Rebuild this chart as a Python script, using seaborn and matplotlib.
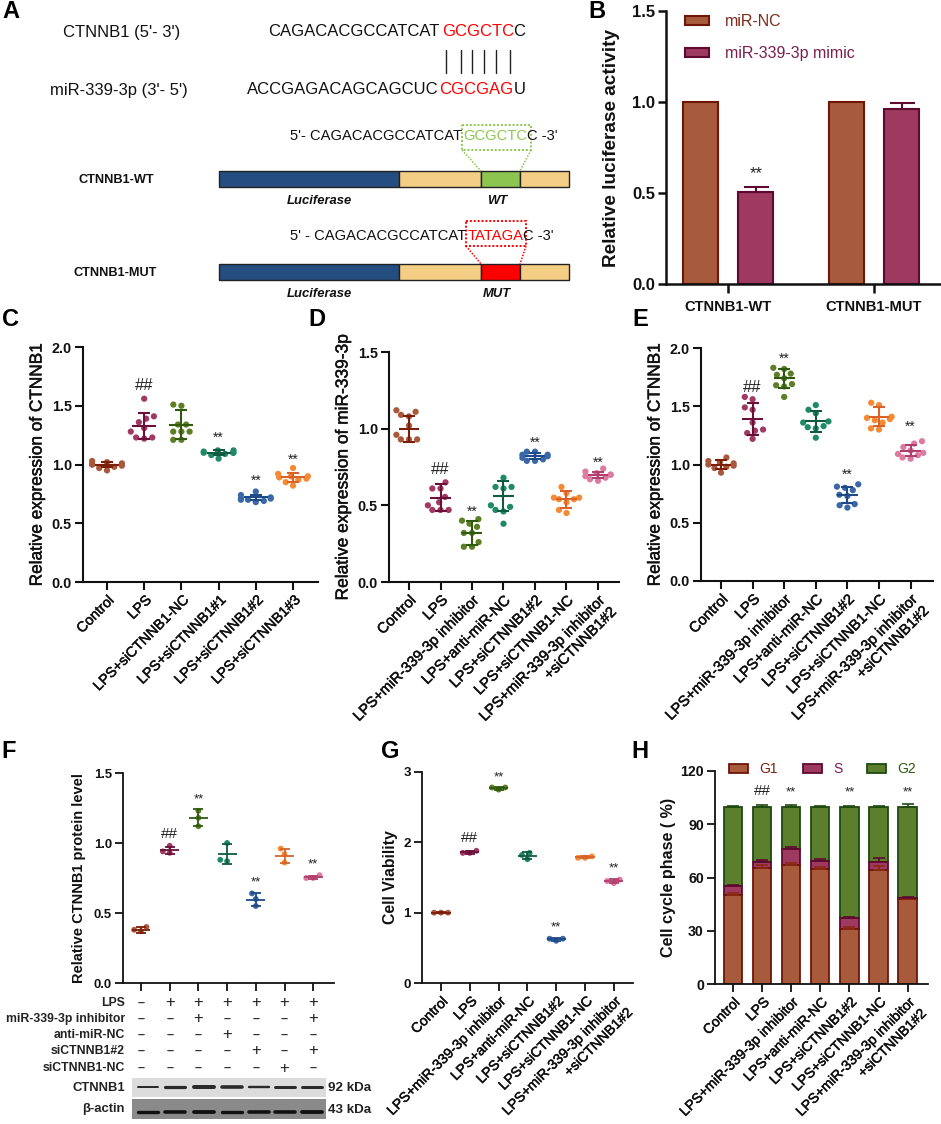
import numpy as np
import pandas as pd
import matplotlib
matplotlib.use('Agg')
import matplotlib.pyplot as plt
import matplotlib.patheffects as pe
from matplotlib.patches import Patch, Rectangle
import seaborn as sns

W, H = 941, 1124

# colours of the groups, points and their darker lines
POINT_COLORS = ['#A9583C', '#A03A62', '#5C7F25', '#1F8A68', '#3A67A8', '#F58A33', '#DC7AA0']
LINE_COLORS = ['#7B1E0A', '#6A0F3A', '#2F5A10', '#0F5A40', '#1E4A88', '#D8622A', '#B03E6E']

# panel B
B_GROUPS = ['CTNNB1-WT', 'CTNNB1-MUT']
B_NC = [1.0, 1.0]
B_MIMIC = [0.505, 0.96]
B_MIMIC_ERR = [0.03, 0.035]

# panel C
C_LABELS = ['Control', 'LPS', 'LPS+siCTNNB1-NC', 'LPS+siCTNNB1#1', 'LPS+siCTNNB1#2', 'LPS+siCTNNB1#3']
C_VALUES = [
    [1.03, 1.02, 1.01, 1.0, 1.0, 0.99, 0.98, 0.97, 0.95],
    [1.56, 1.41, 1.39, 1.36, 1.31, 1.28, 1.23, 1.23, 1.22],
    [1.51, 1.50, 1.34, 1.34, 1.28, 1.28, 1.28, 1.21, 1.21],
    [1.12, 1.12, 1.11, 1.10, 1.10, 1.10, 1.09, 1.08, 1.05],
    [0.77, 0.74, 0.72, 0.71, 0.71, 0.70, 0.70, 0.69, 0.68],
    [0.97, 0.92, 0.90, 0.90, 0.89, 0.88, 0.87, 0.85, 0.82],
]
C_MEAN = [1.0, 1.33, 1.34, 1.10, 0.72, 0.89]
C_SD = [0.02, 0.11, 0.12, 0.02, 0.02, 0.04]
C_MARKS = [('##', 1, 1.67), ('**', 3, 1.24), ('**', 4, 0.87), ('**', 5, 1.05)]

# label set shared by the panels D, E, G and H
LONG_LABELS = ['Control', 'LPS', 'LPS+miR-339-3p inhibitor', 'LPS+anti-miR-NC', 'LPS+siCTNNB1#2',
               'LPS+siCTNNB1-NC', 'LPS+miR-339-3p inhibitor\n+siCTNNB1#2']

# panel D
D_VALUES = [
    [1.12, 1.11, 1.09, 1.08, 1.02, 0.96, 0.93, 0.93, 0.93],
    [0.65, 0.61, 0.61, 0.555, 0.52, 0.47, 0.47, 0.47, 0.50],
    [0.41, 0.40, 0.38, 0.36, 0.32, 0.32, 0.26, 0.23, 0.23],
    [0.68, 0.62, 0.62, 0.61, 0.50, 0.49, 0.47, 0.46, 0.38],
    [0.85, 0.85, 0.83, 0.83, 0.82, 0.81, 0.80, 0.79, 0.79],
    [0.62, 0.58, 0.55, 0.55, 0.54, 0.54, 0.52, 0.47, 0.45],
    [0.74, 0.72, 0.71, 0.70, 0.70, 0.69, 0.68, 0.67, 0.66],
]
D_MEAN = [1.0, 0.55, 0.32, 0.56, 0.82, 0.54, 0.70]
D_SD = [0.085, 0.09, 0.08, 0.10, 0.02, 0.055, 0.02]
D_MARKS = [('##', 1, 0.735), ('**', 2, 0.47), ('**', 4, 0.92), ('**', 6, 0.79)]

# panel E
E_VALUES = [
    [1.06, 1.03, 1.02, 1.01, 1.0, 0.99, 0.98, 0.97, 0.93],
    [1.58, 1.56, 1.49, 1.47, 1.36, 1.30, 1.29, 1.27, 1.22],
    [1.83, 1.82, 1.78, 1.77, 1.74, 1.69, 1.68, 1.67, 1.58],
    [1.51, 1.47, 1.44, 1.37, 1.36, 1.33, 1.32, 1.31, 1.23],
    [0.83, 0.81, 0.80, 0.78, 0.74, 0.73, 0.66, 0.65, 0.63],
    [1.53, 1.51, 1.41, 1.40, 1.39, 1.38, 1.36, 1.31, 1.30],
    [1.20, 1.18, 1.15, 1.12, 1.10, 1.09, 1.08, 1.06, 1.05],
]
E_MEAN = [1.0, 1.39, 1.74, 1.37, 0.74, 1.41, 1.12]
E_SD = [0.04, 0.14, 0.08, 0.09, 0.07, 0.08, 0.05]
E_MARKS = [('##', 1, 1.665), ('**', 2, 1.92), ('**', 4, 0.925), ('**', 6, 1.335)]

# panel F
F_VALUES = [
    [0.40, 0.38, 0.37],
    [0.98, 0.94, 0.93],
    [1.23, 1.18, 1.12],
    [1.00, 0.87, 0.88],
    [0.64, 0.60, 0.55],
    [0.96, 0.92, 0.86],
    [0.77, 0.75, 0.75],
]
F_MEAN = [0.38, 0.95, 1.18, 0.92, 0.595, 0.91, 0.755]
F_SD = [0.02, 0.025, 0.06, 0.07, 0.045, 0.05, 0.01]
F_MARKS = [('##', 1, 1.065), ('**', 2, 1.32), ('**', 4, 0.73), ('**', 6, 0.86)]
F_ROW_NAMES = ['LPS', 'miR-339-3p inhibitor', 'anti-miR-NC', 'siCTNNB1#2', 'siCTNNB1-NC']
F_ROWS = [
    ['-', '+', '+', '+', '+', '+', '+'],
    ['-', '-', '+', '-', '-', '-', '+'],
    ['-', '-', '-', '+', '-', '-', '-'],
    ['-', '-', '-', '-', '+', '-', '+'],
    ['-', '-', '-', '-', '-', '+', '-'],
]
BLOT_CTNNB1 = [2.0, 3.2, 4.0, 3.6, 2.4, 3.0, 3.0]
BLOT_ACTIN = [3.4, 3.6, 3.8, 3.4, 3.6, 3.6, 3.8]

# panel G
G_VALUES = [
    [1.0, 1.0, 1.0],
    [1.85, 1.88, 1.85],
    [2.75, 2.78, 2.78],
    [1.76, 1.85, 1.82],
    [0.60, 0.63, 0.63],
    [1.78, 1.80, 1.78],
    [1.42, 1.47, 1.45],
]
G_MEAN = [1.0, 1.86, 2.77, 1.81, 0.62, 1.79, 1.45]
G_SD = [0.005, 0.02, 0.02, 0.05, 0.02, 0.01, 0.03]
G_MARKS = [('##', 1, 2.06), ('**', 2, 2.95), ('**', 4, 0.815), ('**', 6, 1.655)]

# panel H, heights of the three phases
H_G1 = [50, 65.6, 67, 64.7, 31, 64.5, 47.7]
H_S = [5, 3.4, 9, 4.5, 6, 4.3, 0.6]
H_G2 = [45, 31, 24, 30.8, 63, 31.2, 51.7]
H_G1_ERR = [1.3, 1.2, 1.3, 1.0, 1.0, 2.2, 0.8]
H_S_ERR = [1.0, 1.0, 1.2, 1.4, 1.0, 2.2, 0.6]
H_G2_ERR = [0.5, 0.6, 0.8, 0.5, 0.5, 0.4, 1.2]
H_MARKS = [('##', 1, 109), ('**', 2, 108.5), ('**', 4, 108.5), ('**', 6, 109)]

sns.set_theme(style='ticks')
plt.rcParams['font.family'] = ['Liberation Sans', 'DejaVu Sans']
plt.rcParams['axes.edgecolor'] = '#111111'

# thickens the regular labels a little, the source figure is heavier than plain regular
HEAVY = [pe.withStroke(linewidth=0.35, foreground='#111111')]


def make_axes(fig, left, right, top, bottom, x0, dx, ymax, yticks, line=1.5):
    # build an axes from its pixel box, x0/dx are the first tick and the tick spacing
    ax = fig.add_axes([left / W, 1 - bottom / H, (right - left) / W, (bottom - top) / H])
    ax.patch.set_alpha(0)
    ax.set_ylim(0, ymax)
    ax.set_yticks(yticks)
    ax._xlim_px = ((left - x0) / dx, (right - x0) / dx)
    sns.despine(ax=ax)
    for side in ['left', 'bottom']:
        ax.spines[side].set_linewidth(line)
    ax.tick_params(axis='both', width=line, length=5.5, color='#111111', pad=2.5)
    return ax


def finish_axes(ax, labels, ylabel, ylabel_x, left, right, size_y, size_x=10.0, label_size=12.4, label_weight='normal'):
    ax.set_xlim(*ax._xlim_px)
    ax.set_xlabel('')
    ax.set_xticks(range(len(labels)))
    if labels[0]:
        ax.set_xticklabels(labels, rotation=45, ha='right', rotation_mode='anchor',
                           fontsize=size_x, color='#111111', path_effects=HEAVY)
    else:
        ax.set_xticklabels([])
    ax.set_ylabel(ylabel, fontsize=label_size, fontweight=label_weight, color='#111111', va='center')
    if label_weight == 'normal':
        ax.yaxis.label.set_path_effects(HEAVY)
    ax.yaxis.set_label_coords((ylabel_x - left) / (right - left), 0.5)
    for t in ax.get_yticklabels():
        t.set_fontsize(size_y)
        t.set_fontweight('bold')
        t.set_color('#111111')


def scatter_panel(ax, values, means, sds, layout_size=5.6, dot_size=4.5, mean_half=0.33, cap=4.5, line=1.5):
    rows = []
    for i, group in enumerate(values):
        for v in group:
            rows.append({'group': i, 'value': v})
    df = pd.DataFrame(rows)
    # swarm is laid out with a wider dot than drawn, see freeze_swarms
    sns.swarmplot(data=df, x='group', y='value', hue='group', palette=POINT_COLORS[:len(values)],
                  size=layout_size, legend=False, ax=ax, warn_thresh=1, zorder=2)
    ax._dot_size = dot_size
    for i, (m, s) in enumerate(zip(means, sds)):
        ax.errorbar(i, m, yerr=s, fmt='none', ecolor=LINE_COLORS[i], elinewidth=line,
                    capsize=cap, capthick=line, zorder=3)
        ax.hlines(m, i - mean_half, i + mean_half, color=LINE_COLORS[i], lw=line, zorder=3)


def freeze_swarms(fig):
    # keep the swarm offsets of the first draw and give the points their real size
    fig.canvas.draw()
    for ax in fig.axes:
        for coll in ax.collections:
            if 'draw' in coll.__dict__:
                del coll.draw
                coll.set_sizes([ax._dot_size ** 2])


def add_marks(ax, marks, size_hash=12, size_star=10):
    for text, i, y in marks:
        size = size_hash if text == '##' else size_star
        va = 'center' if text == '##' else 'center_baseline'
        ax.text(i, y, text, ha='center', va=va, fontsize=size, color='#222222', zorder=4)


fig = plt.figure(figsize=(W / 100, H / 100), dpi=100, facecolor='white')

# overlay in pixel coordinates for panel A, the panel letters and the blot
over = fig.add_axes([0, 0, 1, 1], zorder=5)
over.set_xlim(0, W)
over.set_ylim(H, 0)
over.axis('off')
over.patch.set_alpha(0)

for letter, x, y in [('A', 2, 11), ('B', 588, 11), ('C', 2, 319), ('D', 308, 319), ('E', 632, 319),
                     ('F', 1, 751), ('G', 381, 751), ('H', 631, 751)]:
    over.text(x, y, letter, fontsize=17, fontweight='bold', color='black', ha='left', va='center')

# panel A: sequences
over.text(63, 32, "CTNNB1 (5'- 3')", fontsize=12, color='#111111', va='center')
over.text(50, 90, "miR-339-3p (3'- 5')", fontsize=12, color='#111111', va='center')
over.text(268, 31, 'CAGACACGCCATCAT', fontsize=12, color='#111111', va='center')
over.text(442, 31, 'GCGCTC', fontsize=12, color='#FF0000', va='center')
over.text(513, 31, 'C', fontsize=12, color='#111111', va='center')
over.text(247, 90, 'ACCGAGACAGCAGCUC', fontsize=12, color='#111111', va='center')
over.text(439, 90, 'CGCGAG', fontsize=12, color='#FF0000', va='center')
over.text(514, 90, 'U', fontsize=12, color='#111111', va='center')
for x in [446, 461, 472, 484, 496, 510]:
    over.plot([x, x], [50, 73], color='#222222', lw=1)

over.text(290, 136, "5'- CAGACACGCCATCAT", fontsize=10.6, color='#111111', va='center')
over.text(463, 136, 'GCGCTC', fontsize=10.6, color='#8CC650', va='center')
over.text(527, 136, 'C -3\'', fontsize=10.6, color='#111111', va='center')
over.text(290, 236, "5' - CAGACACGCCATCAT", fontsize=10.6, color='#111111', va='center')
over.text(468, 236, 'TATAGA', fontsize=10.6, color='#FF0000', va='center')
over.text(523, 236, 'C -3\'', fontsize=10.6, color='#111111', va='center')


def construct(y, color, box, line_color, name, name_x, tag):
    # one reporter construct: bar, insert, dotted zoom box and labels
    for x0, x1, c in [(219, 399, '#244E80'), (399, 481, '#F5CE85'), (481, 520, color), (520, 569, '#F5CE85')]:
        over.add_patch(Rectangle((x0, y), x1 - x0, 16, facecolor=c, edgecolor='#222222', lw=1))
    bx0, bx1, by0, by1 = box
    over.add_patch(Rectangle((bx0, by0), bx1 - bx0, by1 - by0, fill=False, edgecolor=line_color,
                             lw=1.4, ls=(0, (1, 1))))
    over.plot([bx0, 481], [by1, y], color=line_color, lw=1.1, ls=(0, (1, 1)))
    over.plot([bx1, 520], [by1, y], color=line_color, lw=1.1, ls=(0, (1, 1)))
    over.text(name_x, y + 9, name, fontsize=9.2, fontweight='bold', color='#111111', va='center')
    over.text(319, y + 30, 'Luciferase', fontsize=9.4, fontweight='bold', style='italic',
              color='#111111', ha='center', va='center')
    over.text(497, y + 30, tag, fontsize=9.4, fontweight='bold', style='italic',
              color='#111111', ha='center', va='center')


construct(171, '#8CC650', (462, 531, 125, 150), '#8CC650', 'CTNNB1-WT', 79, 'WT')
construct(264, '#FF0000', (466, 526, 221, 246), '#FF0000', 'CTNNB1-MUT', 74, 'MUT')

# panel B
ax = make_axes(fig, 666, 940, 11, 284, 728, 146, 1.5, [0, 0.5, 1.0, 1.5], line=1.8)
b_df = pd.DataFrame({
    'group': B_GROUPS * 2,
    'value': B_NC + B_MIMIC,
    'treat': ['miR-NC'] * 2 + ['miR-339-3p mimic'] * 2,
})
sns.barplot(data=b_df, x='group', y='value', hue='treat', palette=['#A85A3C', '#9E3A60'],
            width=0.76, gap=0.36, saturation=1, legend=False, ax=ax)
for p, edge in zip(ax.patches, ['#6E1608', '#6E1608', '#5E0A30', '#5E0A30']):
    p.set_edgecolor(edge)
    p.set_linewidth(1.5)
mimic_x = [p.get_x() + p.get_width() / 2 for p in ax.patches[2:4]]
ax.errorbar(mimic_x, B_MIMIC, yerr=[[0, 0], B_MIMIC_ERR], fmt='none', ecolor='#5E0A30',
            elinewidth=1.5, capsize=9, capthick=1.5, zorder=1)
ax.text(mimic_x[0], 0.615, '**', ha='center', va='center_baseline', fontsize=12, color='#222222')
finish_axes(ax, ['', ''], 'Relative luciferase activity', 612, 666, 940, 12, label_size=13.7, label_weight='bold')
ax.set_xticklabels(B_GROUPS, fontsize=10.6, fontweight='bold', color='#111111')
ax.tick_params(axis='x', length=6.5, pad=5)
ax.legend(handles=[Patch(facecolor='#A85A3C', edgecolor='#6E1608', lw=1.5, label='miR-NC'),
                   Patch(facecolor='#9E3A60', edgecolor='#5E0A30', lw=1.5, label='miR-339-3p mimic')],
          frameon=False, loc='upper left', bbox_to_anchor=(0.03, 1.03), fontsize=11.5, handlelength=1.5,
          handleheight=0.5, handletextpad=0.95, labelspacing=1.05, borderpad=0.2,
          labelcolor=['#7B2A1A', '#7A1F4A'])

# panel C
ax = make_axes(fig, 83, 318, 347, 582, 107, 37.2, 2.0, [0, 0.5, 1.0, 1.5, 2.0])
scatter_panel(ax, C_VALUES, C_MEAN, C_SD, mean_half=0.32)
add_marks(ax, C_MARKS)
finish_axes(ax, C_LABELS, 'Relative expression of CTNNB1', 37, 83, 318, 10.4, size_x=10.3)

# panel D
ax = make_axes(fig, 389, 619, 352, 582, 409, 31.5, 1.5, [0, 0.5, 1.0, 1.5])
scatter_panel(ax, D_VALUES, D_MEAN, D_SD, mean_half=0.33)
add_marks(ax, D_MARKS)
finish_axes(ax, LONG_LABELS, 'Relative expression of miR-339-3p', 343, 389, 619, 10.4, size_x=10.7, label_size=12.5)

# panel E
ax = make_axes(fig, 701, 933, 348, 581, 721, 31.6, 2.0, [0, 0.5, 1.0, 1.5, 2.0])
scatter_panel(ax, E_VALUES, E_MEAN, E_SD, mean_half=0.33)
add_marks(ax, E_MARKS)
finish_axes(ax, LONG_LABELS, 'Relative expression of CTNNB1', 655, 701, 933, 10.4, size_x=10.7)

# panel F
ax = make_axes(fig, 123, 334, 773, 983, 141, 28.7, 1.5, [0, 0.5, 1.0, 1.5], line=1.3)
scatter_panel(ax, F_VALUES, F_MEAN, F_SD, layout_size=4.8, dot_size=4.2, mean_half=0.33, cap=3.8, line=1.3)
add_marks(ax, F_MARKS, size_hash=11, size_star=9.5)
finish_axes(ax, [''] * 7, 'Relative CTNNB1 protein level', 79, 123, 334, 9.4, label_size=10.5, label_weight='bold')

f_x = [141 + 28.7 * i for i in range(7)]
for row_name, row_y, row in zip(F_ROW_NAMES, [1003, 1019, 1035, 1051, 1068], F_ROWS):
    over.text(125, row_y, row_name, fontsize=8.8, fontweight='bold', color='#222222', ha='right', va='center')
    for x, sign in zip(f_x, row):
        if sign == '+':
            over.text(x, row_y, '+', fontsize=12, color='#222222', ha='center', va='center')
        else:
            over.text(x, row_y, '\u2013', fontsize=9, fontweight='bold', color='#333333', ha='center', va='center')

# panel F: blot strips
band_x = [148, 175, 204, 232, 259, 285, 312]
over.add_patch(Rectangle((132, 1078), 194, 19, facecolor='#DCDCDC', edgecolor='none'))
over.add_patch(Rectangle((132, 1099), 194, 20, facecolor='#8A8A8A', edgecolor='none'))
for x, t1, t2 in zip(band_x, BLOT_CTNNB1, BLOT_ACTIN):
    over.plot([x - 10, x + 10], [1087, 1087], color='#2A2A2A', lw=t1 * 0.72, solid_capstyle='round')
    over.plot([x - 10, x + 10], [1112, 1112], color='#111111', lw=t2 * 0.72, solid_capstyle='round')
over.text(125, 1088, 'CTNNB1', fontsize=9.4, fontweight='bold', color='#222222', ha='right', va='center')
over.text(125, 1109, '\u03b2-actin', fontsize=9.4, fontweight='bold', color='#222222', ha='right', va='center')
over.text(328, 1088, '92 kDa', fontsize=9.6, fontweight='bold', color='#222222', va='center')
over.text(328, 1110, '43 kDa', fontsize=9.6, fontweight='bold', color='#222222', va='center')

# panel G
ax = make_axes(fig, 422, 633, 772, 983, 441, 28.8, 3, [0, 1, 2, 3], line=1.3)
scatter_panel(ax, G_VALUES, G_MEAN, G_SD, layout_size=4.8, dot_size=4.2, mean_half=0.33, cap=3.8, line=1.3)
add_marks(ax, G_MARKS, size_hash=11, size_star=9.5)
finish_axes(ax, LONG_LABELS, 'Cell Viability', 390, 422, 633, 9.6, size_x=10.1, label_size=11.4, label_weight='bold')

# panel H
ax = make_axes(fig, 715, 928, 771, 984, 733, 29.1, 120, [0, 30, 60, 90, 120], line=1.3)
g1 = np.array(H_G1)
s = np.array(H_S)
g2 = np.array(H_G2)
x_cat = LONG_LABELS
sns.barplot(x=x_cat, y=g2, bottom=g1 + s, color='#5C7F2E', saturation=1, width=0.63,
            edgecolor='#1F4A10', linewidth=1.3, ax=ax, order=x_cat)
sns.barplot(x=x_cat, y=s, bottom=g1, color='#9E3A60', saturation=1, width=0.63,
            edgecolor='#5E0A30', linewidth=1.3, ax=ax, order=x_cat)
sns.barplot(x=x_cat, y=g1, color='#A85A3C', saturation=1, width=0.63,
            edgecolor='#6E1608', linewidth=1.3, ax=ax, order=x_cat)
pos = np.arange(7)
for top, err, c in [(g1, H_G1_ERR, '#8A2A12'), (g1 + s, H_S_ERR, '#5E0A30'), (g1 + s + g2, H_G2_ERR, '#1F4A10')]:
    ax.errorbar(pos, top, yerr=[np.zeros(7), err], fmt='none', ecolor=c, elinewidth=1.2,
                capsize=4.5, capthick=1.2, zorder=4)
add_marks(ax, H_MARKS, size_hash=11, size_star=9.5)
finish_axes(ax, LONG_LABELS, 'Cell cycle phase ( %)', 668, 715, 928, 10.2, size_x=10.1, label_size=11.6, label_weight='bold')
ax.legend(handles=[Patch(facecolor='#A85A3C', edgecolor='#6E1608', lw=1.3, label='G1'),
                   Patch(facecolor='#9E3A60', edgecolor='#5E0A30', lw=1.3, label='S'),
                   Patch(facecolor='#5C7F2E', edgecolor='#1F4A10', lw=1.3, label='G2')],
          frameon=False, loc='upper left', bbox_to_anchor=(0.066, 1.04), ncol=3, fontsize=10, handlelength=1.37,
          handleheight=0.6, handletextpad=0.8, columnspacing=1.8, borderpad=0, borderaxespad=0,
          labelcolor=['#7B1E0A', '#7A1F4A', '#2F5A10'])

freeze_swarms(fig)
fig.savefig('out.png', dpi=100)
